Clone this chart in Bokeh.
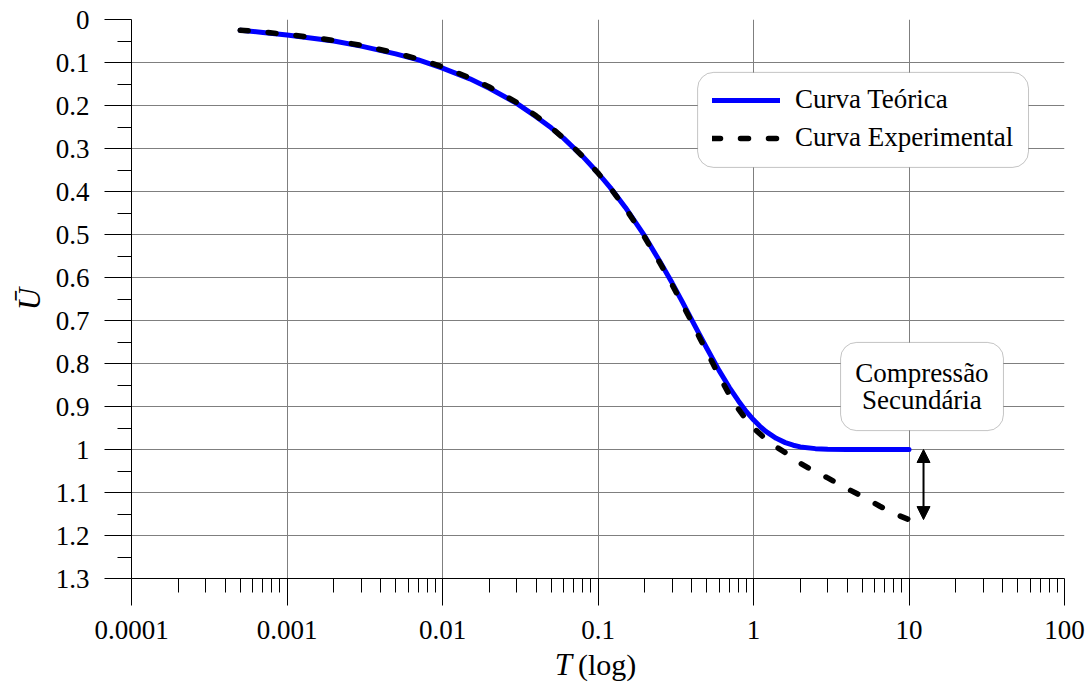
from bokeh.plotting import figure
from bokeh.models import (Range1d, FixedTicker, BoxAnnotation, Label, Legend,
                          LegendItem, Arrow, NormalHead)
from bokeh.embed import file_html
from bokeh.resources import INLINE

# ---------------- data ----------------
T_theory = [0.0005, 0.0007, 0.001, 0.0015, 0.002, 0.003, 0.005, 0.007, 0.01,
            0.015, 0.02, 0.03, 0.04, 0.05, 0.06, 0.07, 0.08, 0.1, 0.12, 0.15,
            0.2, 0.25, 0.3, 0.35, 0.4, 0.45, 0.5, 0.6, 0.7, 0.8, 0.9, 1.0,
            1.1, 1.2, 1.4, 1.6, 1.8, 2.0, 2.5, 3.0, 4.0, 5.0, 7.0, 10.0]
U_theory = [0.025, 0.030, 0.036, 0.044, 0.050, 0.062, 0.080, 0.094, 0.113,
            0.138, 0.160, 0.195, 0.226, 0.252, 0.276, 0.299, 0.319, 0.357, 0.391, 0.437,
            0.504, 0.563, 0.613, 0.658, 0.698, 0.733, 0.764, 0.816, 0.856, 0.887, 0.912, 0.931,
            0.946, 0.958, 0.974, 0.984, 0.990, 0.994, 0.998, 0.9995, 1.000, 1.000, 1.000, 1.000]

T_exp = [0.0005, 0.0007, 0.001, 0.0015, 0.002, 0.003, 0.005, 0.007, 0.01,
         0.015, 0.02, 0.03, 0.04, 0.05, 0.06, 0.07, 0.08, 0.1, 0.12, 0.15,
         0.2, 0.25, 0.3, 0.35, 0.4, 0.45, 0.5, 0.6, 0.7, 0.8, 0.9, 1.0,
         1.2, 1.4, 1.6, 2.0, 2.5, 3.0, 4.0, 5.0, 6.5, 8.0, 10.0]
U_exp = [0.025, 0.029, 0.035, 0.042, 0.049, 0.060, 0.078, 0.092, 0.110,
         0.136, 0.157, 0.193, 0.224, 0.251, 0.276, 0.298, 0.319, 0.357, 0.392, 0.439,
         0.507, 0.566, 0.617, 0.663, 0.703, 0.740, 0.772, 0.828, 0.873, 0.906, 0.931, 0.950,
         0.976, 0.994, 1.007, 1.032, 1.052, 1.066, 1.091, 1.109, 1.132, 1.149, 1.163]

x_ticks = [0.0001, 0.001, 0.01, 0.1, 1.0, 10.0, 100.0]
x_tick_labels = ["0.0001", "0.001", "0.01", "0.1", "1", "10", "100"]
x_minor_multipliers = [2, 3, 4, 5, 6, 7, 8, 9]

y_ticks = [0, 0.1, 0.2, 0.3, 0.4, 0.5, 0.6, 0.7, 0.8, 0.9, 1.0, 1.1, 1.2, 1.3]
y_tick_labels = ["0", "0.1", "0.2", "0.3", "0.4", "0.5", "0.6", "0.7", "0.8",
                 "0.9", "1", "1.1", "1.2", "1.3"]
y_minor_ticks = [0.05, 0.15, 0.25, 0.35, 0.45, 0.55, 0.65, 0.75, 0.85, 0.95,
                 1.05, 1.15, 1.25]

series_names = ["Curva Teórica", "Curva Experimental"]
note_lines = ["Compressão", "Secundária"]
x_label_parts = ["T", "(log)"]
y_label = "Ū"

FONT = "Liberation Serif"
TICK_SIZE = "27px"

# ---------------- figure ----------------
p = figure(frame_width=933, frame_height=559,
           x_axis_type="log",
           x_range=Range1d(1e-4, 100), y_range=Range1d(1.3, 0),
           output_backend="svg", toolbar_location=None,
           min_border_left=131, min_border_right=26,
           min_border_top=19, min_border_bottom=105)
p.outline_line_color = None
p.background_fill_color = "white"
p.border_fill_color = "white"

x_minor = [m * d for d in x_ticks[:-1] for m in x_minor_multipliers]
p.xaxis.ticker = FixedTicker(ticks=x_ticks, minor_ticks=x_minor)
p.xaxis.major_label_overrides = dict(zip(x_ticks, x_tick_labels))
p.yaxis.ticker = FixedTicker(ticks=y_ticks, minor_ticks=y_minor_ticks)
p.yaxis.major_label_overrides = dict(zip(y_ticks, y_tick_labels))

for ax in (p.xaxis[0], p.yaxis[0]):
    ax.axis_line_color = "black"
    ax.axis_line_width = 1
    ax.major_tick_line_color = "black"
    ax.minor_tick_line_color = "black"
    ax.major_tick_out = 27
    ax.major_tick_in = 0
    ax.minor_tick_out = 14
    ax.minor_tick_in = 0
    ax.major_label_text_font = FONT
    ax.major_label_text_font_size = TICK_SIZE
    ax.major_label_text_color = "black"
    ax.major_label_standoff = 15

p.yaxis.axis_label = y_label
p.yaxis.axis_label_text_font = FONT
p.yaxis.axis_label_text_font_style = "italic"
p.yaxis.axis_label_text_font_size = "31px"
p.yaxis.axis_label_text_color = "black"
p.yaxis.axis_label_standoff = 6

for g in (p.xgrid[0], p.ygrid[0]):
    g.grid_line_color = "#7f7f7f"
    g.grid_line_width = 1

# ---------------- curves ----------------
r_theory = p.line(T_theory, U_theory, line_color="#0000ff", line_width=5,
                  line_cap="round", line_join="round")
r_exp = p.line(T_exp, U_exp, line_color="black", line_width=5.5,
               line_dash="8 20", line_cap="round", line_join="round")

# ---------------- legend with rounded frame ----------------
p.add_layout(BoxAnnotation(left=0.437, right=58.7, top=0.123, bottom=0.344,
                           fill_color="white", fill_alpha=1.0,
                           line_color="#3a3a3a", line_width=1,
                           border_radius=16))
legend = Legend(items=[LegendItem(label=series_names[0], renderers=[r_theory]),
                       LegendItem(label=series_names[1], renderers=[r_exp])],
                location=(581, 425), margin=0, padding=0, spacing=7,
                glyph_width=68, glyph_height=30, label_height=30,
                label_standoff=15,
                label_text_font=FONT, label_text_font_size=TICK_SIZE,
                label_text_color="black",
                border_line_alpha=0, background_fill_alpha=0)
p.add_layout(legend)

# ---------------- secondary compression note ----------------
p.add_layout(BoxAnnotation(left=3.63, right=40.5, top=0.751, bottom=0.956,
                           fill_color="white", fill_alpha=1.0,
                           line_color="#3a3a3a", line_width=1,
                           border_radius=16))
for txt, yy in zip(note_lines, [0.821, 0.886]):
    p.add_layout(Label(x=12.1, y=yy, text=txt, text_align="center",
                       text_baseline="middle", text_font=FONT,
                       text_font_size=TICK_SIZE, text_color="black"))

p.add_layout(Arrow(x_start=12.4, y_start=U_theory[-1], x_end=12.4, y_end=U_exp[-1],
                   line_width=2, line_color="black",
                   start=NormalHead(size=13, fill_color="black", line_color="black"),
                   end=NormalHead(size=13, fill_color="black", line_color="black")))

# ---------------- x axis label: italic T + (log), in side panels (not clipped) ----------------
p.add_layout(Label(x=0.1, y=1.3, text=x_label_parts[0], text_align="right",
                   text_baseline="middle", x_offset=-26, y_offset=-86,
                   text_font=FONT, text_font_style="italic",
                   text_font_size="31px", text_color="black"), "right")
p.add_layout(Label(x=0.1, y=1.3, text=x_label_parts[1], text_align="left",
                   text_baseline="middle", x_offset=-20, y_offset=-86,
                   text_font=FONT, text_font_size="30px", text_color="black"), "below")

open("out.html", "w").write(file_html(p, INLINE))
